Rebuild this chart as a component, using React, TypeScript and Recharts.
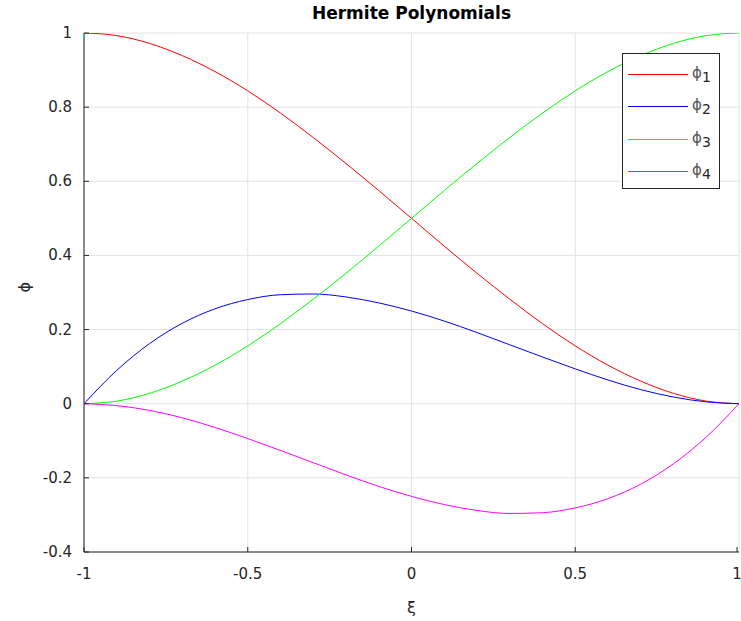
import React from 'react';
import {
  LineChart,
  Line,
  XAxis,
  YAxis,
  CartesianGrid,
  Label
} from 'recharts';

const XI = [-1, -0.9, -0.8, -0.7, -0.6, -0.5, -0.4, -0.3, -0.2, -0.1, 0, 0.1, 0.2, 0.3, 0.4, 0.5, 0.6, 0.7, 0.8, 0.9, 1];
const PHI1 = [1, 0.993, 0.972, 0.939, 0.896, 0.844, 0.784, 0.718, 0.648, 0.575, 0.5, 0.425, 0.352, 0.282, 0.216, 0.156, 0.104, 0.061, 0.028, 0.007, 0];
const PHI2 = [0, 0.09, 0.162, 0.217, 0.256, 0.281, 0.294, 0.296, 0.288, 0.272, 0.25, 0.223, 0.192, 0.159, 0.126, 0.094, 0.064, 0.038, 0.018, 0.005, 0];
const PHI3 = [0, 0.007, 0.028, 0.061, 0.104, 0.156, 0.216, 0.282, 0.352, 0.425, 0.5, 0.575, 0.648, 0.718, 0.784, 0.844, 0.896, 0.939, 0.972, 0.993, 1];
const PHI4 = [0, -0.005, -0.018, -0.038, -0.064, -0.094, -0.126, -0.159, -0.192, -0.223, -0.25, -0.272, -0.288, -0.296, -0.294, -0.281, -0.256, -0.217, -0.162, -0.09, 0];

const X_TICKS = [-1, -0.5, 0, 0.5, 1];
const Y_TICKS = [-0.4, -0.2, 0, 0.2, 0.4, 0.6, 0.8, 1];

const SERIES = [
  { key: 'phi1', sub: '1', color: '#ff0000' },
  { key: 'phi2', sub: '2', color: '#0000ff' },
  { key: 'phi3', sub: '3', color: '#00ff00' },
  { key: 'phi4', sub: '4', color: '#ff00ff' },
];

const data = XI.map((x, i) => ({ x, phi1: PHI1[i], phi2: PHI2[i], phi3: PHI3[i], phi4: PHI4[i] }));

const FONT = '"DejaVu Sans", sans-serif';
const TXT = '#262626';

const XTick = (props: any) => {
  const { x, y, payload } = props;
  return (
    <g>
      <line x1={x} y1={y - 12} x2={x} y2={y - 17} stroke={TXT} />
      <text x={x} y={y + 15} textAnchor="middle" fontSize={15} fill={TXT} fontFamily={FONT}>
        {payload.value}
      </text>
    </g>
  );
};

const YTick = (props: any) => {
  const { x, y, payload } = props;
  return (
    <g>
      <line x1={x + 12} y1={y} x2={x + 17} y2={y} stroke={TXT} />
      <text x={x} y={y + 5} textAnchor="end" fontSize={15} fill={TXT} fontFamily={FONT}>
        {payload.value}
      </text>
    </g>
  );
};

const LegendBox = () => (
  <div style={{ position: 'absolute', left: 622, top: 53, border: '1px solid #262626', background: '#fff', width: 98, height: 136, boxSizing: 'border-box', paddingTop: 4, fontFamily: FONT }}>
    {SERIES.map(s => (
      <div key={s.key} style={{ display: 'flex', alignItems: 'center', height: 32.5 }}>
        <div style={{ width: 60, height: 0, borderTop: `1.2px solid ${s.color}`, marginLeft: 5, marginRight: 4 }} />
        <span style={{ fontSize: 15, color: '#555' }}>
          ϕ<sub style={{ fontSize: 14, color: TXT }}>{s.sub}</sub>
        </span>
      </div>
    ))}
  </div>
);

export default function App() {
  return (
    <div style={{ position: 'absolute', left: 0, top: 0, width: 741, height: 621, background: '#fff' }}>
      <LineChart width={741} height={621} data={data} margin={{ top: 33, right: 2, bottom: 0, left: 0 }}>
        <CartesianGrid stroke="#e3e3e3" strokeWidth={1} />
        <XAxis
          dataKey="x"
          type="number"
          domain={[-1, 1]}
          ticks={X_TICKS}
          height={69}
          stroke={TXT}
          tickLine={false}
          tickSize={0}
          tickMargin={12}
          tick={<XTick />}
          allowDataOverflow
        >
          <Label value="ξ" position="insideBottom" offset={8} style={{ fontSize: 16, fill: TXT, fontFamily: FONT }} />
        </XAxis>
        <YAxis
          type="number"
          domain={[-0.4, 1]}
          ticks={Y_TICKS}
          width={84}
          stroke={TXT}
          tickLine={false}
          tickSize={0}
          tickMargin={12}
          tick={<YTick />}
          allowDataOverflow
        >
          <Label value="ϕ" angle={-90} position="insideLeft" offset={24} style={{ fontSize: 16, fill: TXT, fontFamily: FONT }} />
        </YAxis>
        {SERIES.map(s => (
          <Line
            key={s.key}
            dataKey={s.key}
            type="monotone"
            stroke={s.color}
            strokeWidth={1}
            dot={false}
            isAnimationActive={false}
          />
        ))}
      </LineChart>
      <div style={{ position: 'absolute', left: 84, width: 655, top: 3, textAlign: 'center', fontFamily: FONT, fontWeight: 'bold', fontSize: 17, color: '#000' }}>
        Hermite Polynomials
      </div>
      <LegendBox />
    </div>
  );
}
